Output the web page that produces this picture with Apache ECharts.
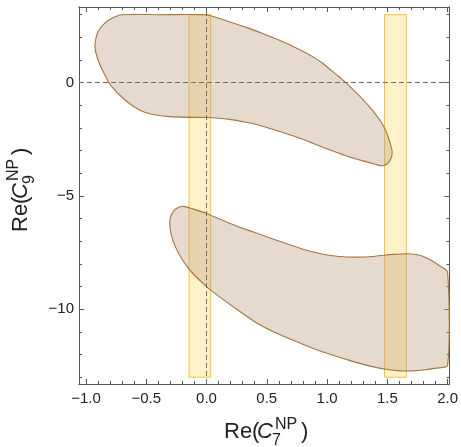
<!DOCTYPE html>
<html><head><meta charset="utf-8">
<script src="https://cdn.jsdelivr.net/npm/echarts@6/dist/echarts.min.js"></script>
<style>html,body{margin:0;padding:0;background:#fff}#c{width:461px;height:447px}</style>
</head><body><div id="c"></div>
<script>
// ---- data ----
const xMajorTicks = [-1, -0.5, 0, 0.5, 1, 1.5, 2];
const xMinorTicks = [-1.0,-0.9,-0.8,-0.7,-0.6,-0.5,-0.4,-0.3,-0.2,-0.1,0,0.1,0.2,0.3,0.4,0.5,0.6,0.7,0.8,0.9,1.0,1.1,1.2,1.3,1.4,1.5,1.6,1.7,1.8,1.9,2.0];
const yMajorTicks = [-10, -5, 0];
const yMinorTicks = [3,2,1,0,-1,-2,-3,-4,-5,-6,-7,-8,-9,-10,-11,-12,-13];
const upperRegion = [
  [-0.71,3.0],[-0.4,3.0],[-0.01,3.0],[0.05,2.93],[0.19,2.69],[0.33,2.44],[0.465,2.17],[0.6,1.88],
  [0.74,1.54],[0.88,1.15],[0.96,0.87],[1.04,0.52],[1.1,0.26],[1.155,0.0],[1.22,-0.33],[1.29,-0.7],
  [1.35,-1.05],[1.40,-1.38],[1.45,-1.75],[1.49,-2.15],[1.52,-2.6],[1.54,-3.04],[1.53,-3.35],[1.50,-3.58],
  [1.46,-3.67],[1.40,-3.6],[1.29,-3.44],[1.15,-3.21],[1.02,-2.96],[0.88,-2.67],[0.74,-2.39],[0.6,-2.14],
  [0.465,-1.92],[0.33,-1.75],[0.19,-1.62],[0.0,-1.54],[-0.15,-1.53],[-0.3,-1.5],[-0.42,-1.43],[-0.5,-1.33],
  [-0.57,-1.16],[-0.64,-0.92],[-0.71,-0.6],[-0.77,-0.27],[-0.81,0.0],[-0.85,0.4],[-0.885,0.8],[-0.912,1.2],
  [-0.926,1.59],[-0.918,1.95],[-0.90,2.25],[-0.87,2.48],[-0.83,2.69],[-0.78,2.85]
];
const lowerRegion = [
  [-0.19,-5.46],[-0.11,-5.58],[0.0,-5.77],[0.19,-6.2],[0.35,-6.52],[0.5,-6.8],[0.65,-7.08],[0.8,-7.35],
  [0.95,-7.55],[1.1,-7.67],[1.25,-7.7],[1.4,-7.66],[1.55,-7.58],[1.67,-7.55],[1.77,-7.62],[1.86,-7.83],
  [1.93,-8.07],[2.0,-8.36],[2.0,-12.48],[1.9,-12.6],[1.8,-12.68],[1.7,-12.72],[1.6,-12.72],[1.5,-12.66],
  [1.35,-12.5],[1.2,-12.28],[1.05,-12.03],[0.88,-11.72],[0.7,-11.33],[0.55,-10.98],[0.4,-10.55],[0.25,-10.0],
  [0.1,-9.42],[0.0,-9.0],[-0.1,-8.5],[-0.17,-8.05],[-0.23,-7.55],[-0.28,-6.95],[-0.303,-6.4],[-0.3,-5.95],
  [-0.27,-5.65],[-0.23,-5.5]
];
const regions = [upperRegion, lowerRegion];
const bands = [[-0.145, 0.035, -13, 3], [1.477, 1.658, -13, 3]];
const refLineX = 0, refLineY = 0;

// ---- chart ----
const FONT = '"Liberation Sans", Arial, Helvetica, sans-serif';
const chart = echarts.init(document.getElementById('c'), null, {renderer: 'canvas'});
const fmt = v => (v < 0 ? '\u2212' : '') + Math.abs(v).toFixed(1);
const fmtY = v => (v < 0 ? '\u2212' : '') + Math.abs(v);
const X0 = -1.058, X1 = 2.016, Y0 = -13.3, Y1 = 3.34;
const axisCol = '#555';
function xAx(pos, ticks, len, labels) {
  return {type:'value', position: pos, min: X0, max: X1, gridIndex: 0,
    axisLine:{show: true, onZero:false, lineStyle:{color: axisCol, width: 1}},
    axisTick:{show:true, inside:true, length: len, customValues: ticks, lineStyle:{color: axisCol}},
    axisLabel: labels ? {show:true, customValues: xMajorTicks, formatter: fmt, margin: 7, color:'#222', fontSize: 15, fontFamily: FONT} : {show:false},
    splitLine:{show:false}};
}
function yAx(pos, ticks, len, labels) {
  return {type:'value', position: pos, min: Y0, max: Y1, gridIndex: 0,
    axisLine:{show: true, onZero:false, lineStyle:{color: axisCol, width: 1}},
    axisTick:{show:true, inside:true, length: len, customValues: ticks, lineStyle:{color: axisCol}},
    axisLabel: labels ? {show:true, customValues: yMajorTicks, formatter: fmtY, margin: 5, color:'#222', fontSize: 15, fontFamily: FONT} : {show:false},
    splitLine:{show:false}};
}
const titleParts = (sub) => [
  {type:'text', x:0, y:0, style:{text:'Re(', fontSize:22, fontFamily:FONT, fill:'#222', align:'left', verticalAlign:'middle'}},
  {type:'text', x:33, y:0, style:{text:'C', fontSize:22, fontStyle:'italic', fontFamily:FONT, fill:'#222', align:'left', verticalAlign:'middle'}},
  {type:'text', x:48, y:9, style:{text:sub, fontSize:16, fontFamily:FONT, fill:'#222', align:'left', verticalAlign:'middle'}},
  {type:'text', x:51, y:-7, style:{text:'NP', fontSize:16, fontFamily:FONT, fill:'#222', align:'left', verticalAlign:'middle'}},
  {type:'text', x:77, y:0, style:{text:')', fontSize:22, fontFamily:FONT, fill:'#222', align:'left', verticalAlign:'middle'}}
];
chart.setOption({
  animation: false,
  grid: {left: 79, right: 10, top: 7, bottom: 63, containLabel: false},
  xAxis: [xAx('bottom', xMajorTicks, 5, true), xAx('bottom', xMinorTicks, 3, false), xAx('top', xMajorTicks, 5, false), xAx('top', xMinorTicks, 3, false)],
  yAxis: [yAx('left', yMajorTicks, 5, true), yAx('left', yMinorTicks, 3, false), yAx('right', yMajorTicks, 5, false), yAx('right', yMinorTicks, 3, false)],
  graphic: [
    {type:'group', x: 224, y: 431.5, children: titleParts('7')},
    {type:'group', x: 21, y: 232, rotation: Math.PI/2, children: titleParts('9')}
  ],
  series: [
    {type:'custom', xAxisIndex:0, yAxisIndex:0, z: 2, silent: true,
      data: bands,
      renderItem: (params, api) => {
        const p0 = api.coord([api.value(0), api.value(3)]);
        const p1 = api.coord([api.value(1), api.value(2)]);
        return {type:'rect', shape:{x:p0[0], y:p0[1], width:p1[0]-p0[0], height:p1[1]-p0[1]},
          style:{fill:'rgba(255,222,120,0.4)', stroke:'#f4c13c', lineWidth:1}};
      }},
    {type:'custom', xAxisIndex:0, yAxisIndex:0, z: 3, silent: true,
      data: regions.map((r, i) => i),
      renderItem: (params, api) => {
        const pts = regions[params.dataIndex].map(p => api.coord(p));
        return {type:'polygon', shape:{points: pts, smooth: 0.25},
          style:{fill:'rgba(185,152,120,0.36)', stroke:'#a6743f', lineWidth:1.1}};
      }},
    {type:'line', xAxisIndex:0, yAxisIndex:0, data: [], z: 5,
      markLine: {silent:true, symbol:['none','none'], label:{show:false},
        lineStyle:{color:'#6b6b6b', type:[5,3], width:1},
        data: [{xAxis: refLineX}, {yAxis: refLineY}]}}
  ]
});
</script></body></html>
